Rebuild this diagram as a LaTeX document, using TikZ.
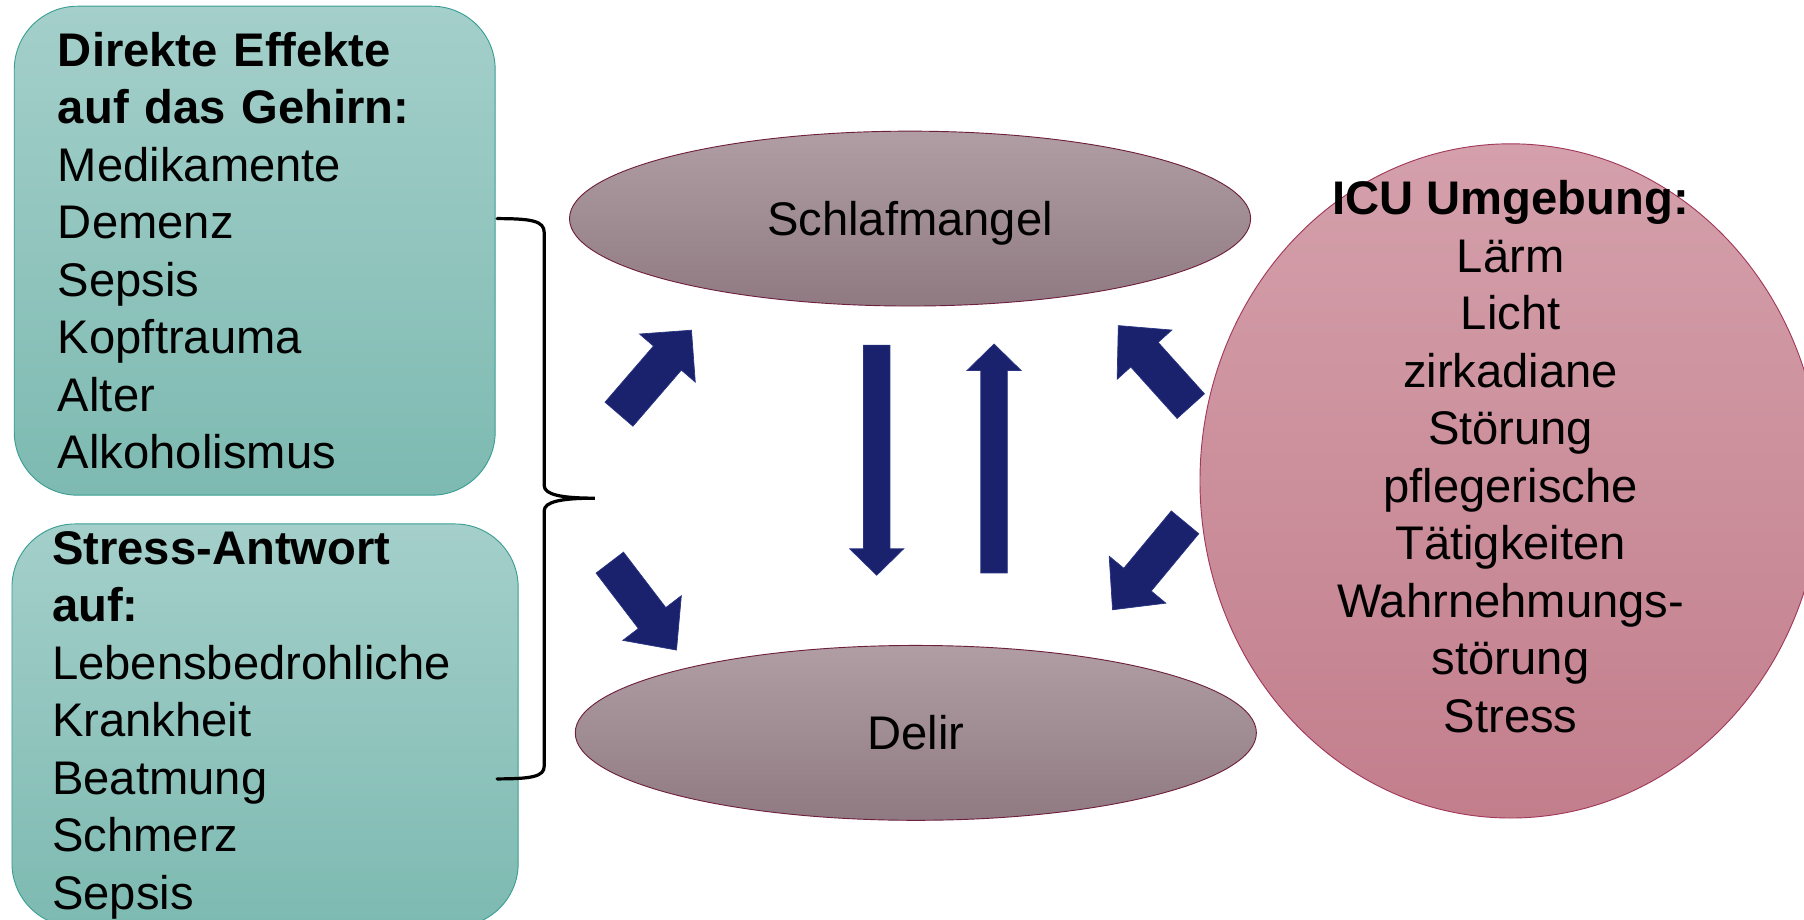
\documentclass[tikz,border=0pt]{standalone}
\usepackage{fontspec}
\setmainfont{Liberation Sans}
\usetikzlibrary{shapes.geometric,calc}

\definecolor{boxtop}{HTML}{A4CFCA}
\definecolor{boxbot}{HTML}{7DBAB1}
\definecolor{boxline}{HTML}{3A9E94}
\definecolor{elltop}{HTML}{B09EA4}
\definecolor{ellbot}{HTML}{907A82}
\definecolor{ellline}{HTML}{6E1F3E}
\definecolor{icutop}{HTML}{D4A0AB}
\definecolor{icubot}{HTML}{C37E8C}
\definecolor{iculine}{HTML}{A2385A}
\definecolor{arrnavy}{HTML}{1A226E}
\definecolor{arrline}{HTML}{2A3482}

% block arrow: tail, tip, half shaft width, half head width, head length
\newcommand{\blockarrow}[5]{%
  \coordinate (ba-b) at ($(#2)!#5!(#1)$);
  \filldraw[fill=arrnavy, draw=arrline, line width=0.6pt]
    ($(#1)!#3!90:(#2)$) -- ($(ba-b)!#3!90:(#2)$) -- ($(ba-b)!#4!90:(#2)$) -- (#2)
    -- ($(ba-b)!#4!-90:(#2)$) -- ($(ba-b)!#3!-90:(#2)$) -- ($(#1)!#3!-90:(#2)$) -- cycle;
}

\tikzset{
  cause/.style={draw=boxline, line width=0.8pt, rounded corners=55pt,
    top color=boxtop, bottom color=boxbot, anchor=north west,
    align=left, inner ysep=0pt, font=\fontsize{41}{50}\selectfont},
  state/.style={ellipse, draw=ellline, line width=0.8pt,
    top color=elltop, bottom color=ellbot, text depth=0pt,
    minimum width=592pt, minimum height=152pt, font=\fontsize{41}{50}\selectfont},
  brace/.style={line width=2.8pt, line cap=round}
}

\begin{document}
\begin{tikzpicture}[x=1pt,y=-1pt]
\useasboundingbox (0,0) rectangle (1568,799.6);
\clip (0,0) rectangle (1568,799.6);

% Ursachen links
\node[cause, text width=342pt, inner xsep=38pt, minimum height=425pt] (brain) at (12,5)
  {\textbf{Direkte Effekte}\\\textbf{auf das Gehirn:}\\Medikamente\\Demenz\\Sepsis\\Kopftrauma\\Alter\\Alkoholismus};
\node[cause, text width=370pt, inner xsep=35pt, minimum height=350pt] (stress) at (10,455)
  {\textbf{Stress-Antwort}\\\textbf{auf:}\\Lebensbedrohliche\\Krankheit\\Beatmung\\Schmerz\\Sepsis};

% Klammer
\coordinate (brtop) at (432,190);
\coordinate (brtip) at (517,433);
\coordinate (brbot) at (432,677);
\draw[brace] (brtop) .. controls (462,190) and (473,192) .. (473,202) -- (473,422)
  .. controls (473,430) and (488,433) .. (brtip)
  .. controls (488,433) and (473,436) .. (473,444) -- (473,666)
  .. controls (473,675) and (462,677) .. (brbot);

% Zustaende
\node[state] (sleep) at (791,190) {Schlafmangel};
\node[state] (delir) at (796,637) {Delir};

% ICU Umgebung
\node[ellipse, draw=iculine, line width=0.8pt, top color=icutop, bottom color=icubot,
  minimum width=540pt, minimum height=586pt] (icu) at (1313,418) {};
\node[align=center, font=\fontsize{41}{50}\selectfont] (icutext) at (1313,397)
  {\textbf{ICU Umgebung:}\\Lärm\\Licht\\zirkadiane\\Störung\\pflegerische\\Tätigkeiten\\Wahrnehmungs-\\störung\\Stress};

% Pfeile
\coordinate (a1) at (538,360);  \coordinate (a2) at (601,287);
\coordinate (b1) at (530,489);  \coordinate (b2) at (588,565);
\coordinate (c1) at (1035,353); \coordinate (c2) at (972,283);
\coordinate (d1) at (1030,454); \coordinate (d2) at (967,530);
\coordinate (e1) at (762,300);  \coordinate (e2) at (762,500);
\coordinate (f1) at (864,498);  \coordinate (f2) at (864,299);
\blockarrow{a1}{a2}{16pt}{32pt}{32pt}
\blockarrow{b1}{b2}{15pt}{32pt}{35pt}
\blockarrow{c1}{c2}{16pt}{32pt}{34pt}
\blockarrow{d1}{d2}{15.5pt}{32pt}{34pt}
\blockarrow{e1}{e2}{11.5pt}{23.5pt}{23pt}
\blockarrow{f1}{f2}{11.5pt}{23.5pt}{23pt}

\end{tikzpicture}
\end{document}
